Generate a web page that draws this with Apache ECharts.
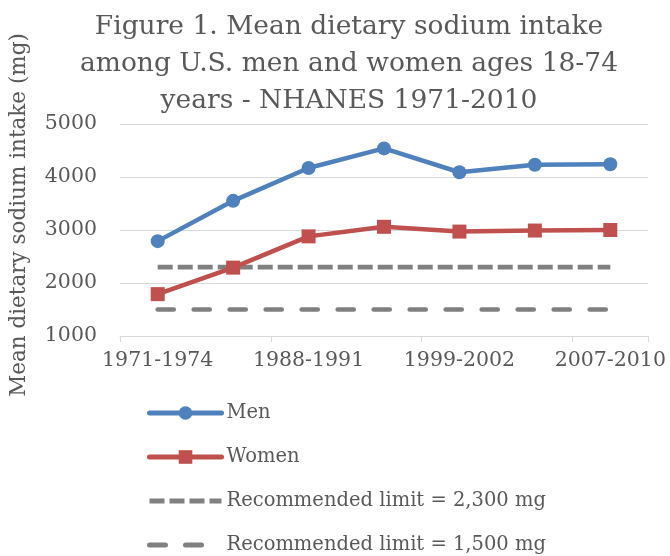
<!DOCTYPE html>
<html style="height: 100%">
<head>
    <meta charset="utf-8">
    <script src="https://cdn.jsdelivr.net/npm/echarts@6/dist/echarts.min.js"></script>
</head>
<body style="height: 100%; margin: 0; background: #fff">
    <div id="main" style="width:670px;height:556px;"></div>
    <script type="text/javascript">
    // data
    var periods = ['1971-1974', '1976-1980', '1988-1991', '1991-1994', '1999-2002', '2003-2006', '2007-2010'];
    var men = [2790, 3550, 4170, 4540, 4090, 4230, 4240];
    var women = [1790, 2290, 2880, 3060, 2970, 2990, 3000];
    var limit2300 = [2300, 2300, 2300, 2300, 2300, 2300, 2300];
    var limit1500 = [1500, 1500, 1500, 1500, 1500, 1500, 1500];
    var yTicks = [1000, 2000, 3000, 4000, 5000];

    var font = 'DejaVu Serif';
    var textColor = '#595959';

    var myChart = echarts.init(document.getElementById('main'));
    var option = {
        animation: false,
        title: {
            text: 'Figure 1. Mean dietary sodium intake\namong U.S. men and women ages 18-74\nyears - NHANES 1971-2010',
            left: 344,
            top: 4,
            textAlign: 'center',
            textStyle: {
                fontFamily: font,
                fontSize: 26.5,
                fontWeight: 'normal',
                color: textColor,
                lineHeight: 37
            }
        },
        legend: {
            orient: 'vertical',
            left: 147,
            top: 403,
            height: 153,
            padding: 0,
            itemWidth: 72,
            itemHeight: 17,
            itemGap: 24,
            textStyle: { fontFamily: font, fontSize: 19.5, color: textColor, lineHeight: 20 },
            data: [
                { name: 'Men', lineStyle: { width: 5 } },
                { name: 'Women', lineStyle: { width: 5 } },
                { name: 'Recommended limit = 2,300 mg', lineStyle: { width: 5 }, itemStyle: { opacity: 0 } },
                { name: 'Recommended limit = 1,500 mg', lineStyle: { width: 5 }, itemStyle: { opacity: 0 } }
            ]
        },
        grid: { left: 118, right: 22, top: 124, height: 212, containLabel: false },
        xAxis: {
            type: 'category',
            data: periods,
            boundaryGap: true,
            axisLine: { lineStyle: { color: '#D9D9D9', width: 1 } },
            axisTick: { show: true, length: 6, lineStyle: { color: '#D9D9D9' } },
            axisLabel: { interval: 1, margin: 14, fontFamily: font, fontSize: 20.5, color: textColor }
        },
        yAxis: {
            type: 'value',
            min: yTicks[0],
            max: yTicks[yTicks.length - 1],
            interval: 1000,
            name: 'Mean dietary sodium intake (mg)',
            nameLocation: 'middle',
            nameGap: 90,
            nameTextStyle: { fontFamily: font, fontSize: 21.5, color: textColor, padding: [0, 0, 0, 30] },
            axisLine: { show: false },
            axisTick: { show: false },
            splitLine: { lineStyle: { color: '#D9D9D9', width: 1 } },
            axisLabel: {
                margin: 23, fontFamily: font, fontSize: 20.5, color: textColor,
                formatter: function (v) { return String(v); }
            }
        },
        series: [
            {
                name: 'Men',
                type: 'line',
                data: men,
                symbol: 'circle',
                symbolSize: 14,
                itemStyle: { color: '#4F81BD' },
                lineStyle: { color: '#4F81BD', width: 4.5, cap: 'round' },
                z: 4
            },
            {
                name: 'Women',
                type: 'line',
                data: women,
                symbol: 'rect',
                symbolSize: 14,
                itemStyle: { color: '#C0504D' },
                lineStyle: { color: '#C0504D', width: 4.5, cap: 'round' },
                z: 3
            },
            {
                name: 'Recommended limit = 2,300 mg',
                type: 'line',
                data: limit2300,
                symbol: 'none',
                itemStyle: { color: '#808080' },
                lineStyle: { color: '#808080', width: 4.7, type: [15, 5], cap: 'butt' },
                z: 2
            },
            {
                name: 'Recommended limit = 1,500 mg',
                type: 'line',
                data: limit1500,
                symbol: 'none',
                itemStyle: { color: '#808080' },
                lineStyle: { color: '#808080', width: 4.7, type: [16, 20], cap: 'round' },
                z: 2
            }
        ]
    };
    myChart.setOption(option);
    </script>
</body>
</html>
